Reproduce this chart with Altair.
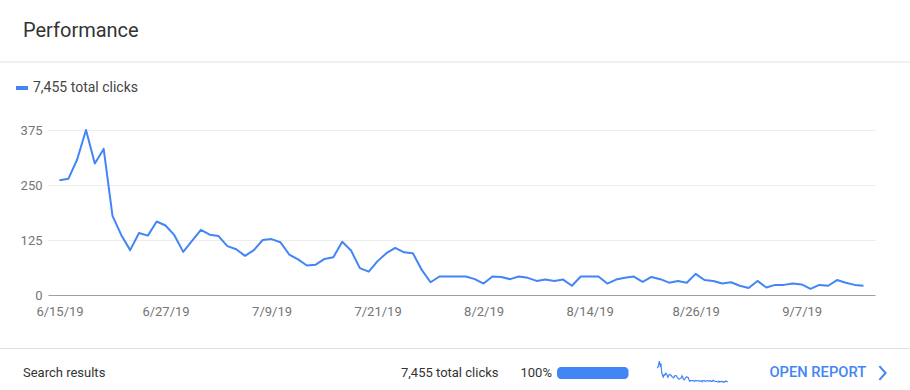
import altair as alt
import pandas as pd

BLUE = "#4285f4"

# ---- data -------------------------------------------------------------
start_date = "2019-06-15"
clicks = [261, 264, 308, 375, 299, 332, 180, 136, 102, 141, 135, 167, 158, 136, 98, 123, 148, 137, 134,
          111, 104, 89, 102, 125, 127, 120, 92, 81, 67, 69, 82, 86, 121, 101, 61, 53, 77, 95, 107, 97, 95, 57, 29,
          42, 42, 42, 42, 36, 26, 42, 41, 36, 42, 39, 32, 35, 32, 35, 21, 42, 42, 42, 26, 35, 39, 42, 30,
          41, 36, 28, 32, 28, 48, 34, 32, 26, 29, 21, 16, 32, 17, 23, 23, 26, 24, 14, 23, 21, 34, 28, 23, 21]
tick_dates = [(2019, 6, 15), (2019, 6, 27), (2019, 7, 9), (2019, 7, 21), (2019, 8, 2),
              (2019, 8, 14), (2019, 8, 26), (2019, 9, 7)]
y_ticks = [0, 125, 250, 375]
series_label = "7,455 total clicks"
header = "Performance"
footer_left = "Search results"
footer_total = "7,455 total clicks"
footer_share = "100%"
footer_link = "OPEN REPORT"

start = pd.Timestamp(start_date)
dates = [(start + pd.Timedelta(days=i)).strftime("%Y-%m-%dT00:00:00") for i in range(len(clicks))]
df = pd.DataFrame({"date": dates, "clicks": clicks, "series": series_label})

FONT = "Roboto"

line = alt.Chart(df).mark_line(strokeWidth=2, strokeJoin="round").encode(
    x=alt.X("date:T",
            scale=alt.Scale(padding=11.5, nice=False),
            axis=alt.Axis(values=[alt.DateTime(year=y, month=m, date=d) for y, m, d in tick_dates],
                          format="%-m/%-d/%y", title=None, grid=False, ticks=False,
                          domainColor="#a0a0a0", labelColor="#757575", labelFontSize=13,
                          labelFont=FONT, labelPadding=10)),
    y=alt.Y("clicks:Q",
            scale=alt.Scale(domain=[0, 375], nice=False),
            axis=alt.Axis(values=y_ticks, title=None, domain=False, ticks=False,
                          gridColor="#ececec", labelColor="#757575", labelFontSize=13,
                          labelFont=FONT, labelPadding=6)),
    color=alt.Color("series:N", scale=alt.Scale(range=[BLUE]),
                    legend=alt.Legend(orient="none", legendX=-34, legendY=-50, title=None,
                                      symbolType="stroke", symbolStrokeWidth=4, symbolSize=144,
                                      labelFontSize=14, labelFont=FONT, labelColor="#444444",
                                      labelOffset=3, padding=0)),
)

def text_layer(txt, x, y, size, color, align="left", weight="normal", baseline="middle"):
    return alt.Chart(pd.DataFrame({"t": [txt]})).mark_text(
        align=align, baseline=baseline, fontSize=size, font=FONT, color=color, fontWeight=weight
    ).encode(x=alt.value(x), y=alt.value(y), text="t:N")

def hrule(y):
    return alt.Chart(pd.DataFrame({"k": [0]})).mark_rule(color="#e0e0e0", strokeWidth=1).encode(
        x=alt.value(-48), x2=alt.value(862), y=alt.value(y))

title = text_layer(header, -25, -93, 20, "#333333", baseline="alphabetic")
div1 = hrule(-68)
div2 = hrule(218.5)
f1 = text_layer(footer_left, -25, 243, 13, "#333333")
f2 = text_layer(footer_total, 450.5, 243, 13, "#333333", align="right")
f3 = text_layer(footer_share, 472.5, 243, 13, "#333333")
f4 = text_layer(footer_link, 721.5, 243, 14.7, BLUE, weight=500)

bar = alt.Chart(pd.DataFrame({"share": [100]})).mark_bar(color=BLUE, cornerRadius=4).encode(
    x=alt.value(509), x2=alt.value(580.5), y=alt.value(237), y2=alt.value(249))

chevron = alt.Chart(pd.DataFrame({"k": [0]})).mark_point(
    shape="M -0.45 -1 L 0.45 0 L -0.45 1", filled=False, strokeWidth=2, color=BLUE, size=190, opacity=1
).encode(x=alt.value(834.5), y=alt.value(243))

spark = alt.Chart(df).mark_line(color=BLUE, strokeWidth=1.2).encode(
    x=alt.X("date:T", scale=alt.Scale(range=[609, 680], nice=False), axis=None),
    y=alt.Y("clicks:Q", scale=alt.Scale(domain=[0, 375], range=[253, 231], nice=False), axis=None),
)

chart = alt.layer(line, title, div1, div2, f1, f2, f3, f4, bar, chevron, spark).resolve_scale(
    x="independent", y="independent"
).properties(
    width=827, height=165,
    padding={"left": 48, "top": 130, "right": 35, "bottom": 95},
    autosize=alt.AutoSizeParams(type="none"),
    background="white",
).configure_view(strokeWidth=0)

chart.save("out.html", embed_options={"renderer": "svg", "actions": False})
